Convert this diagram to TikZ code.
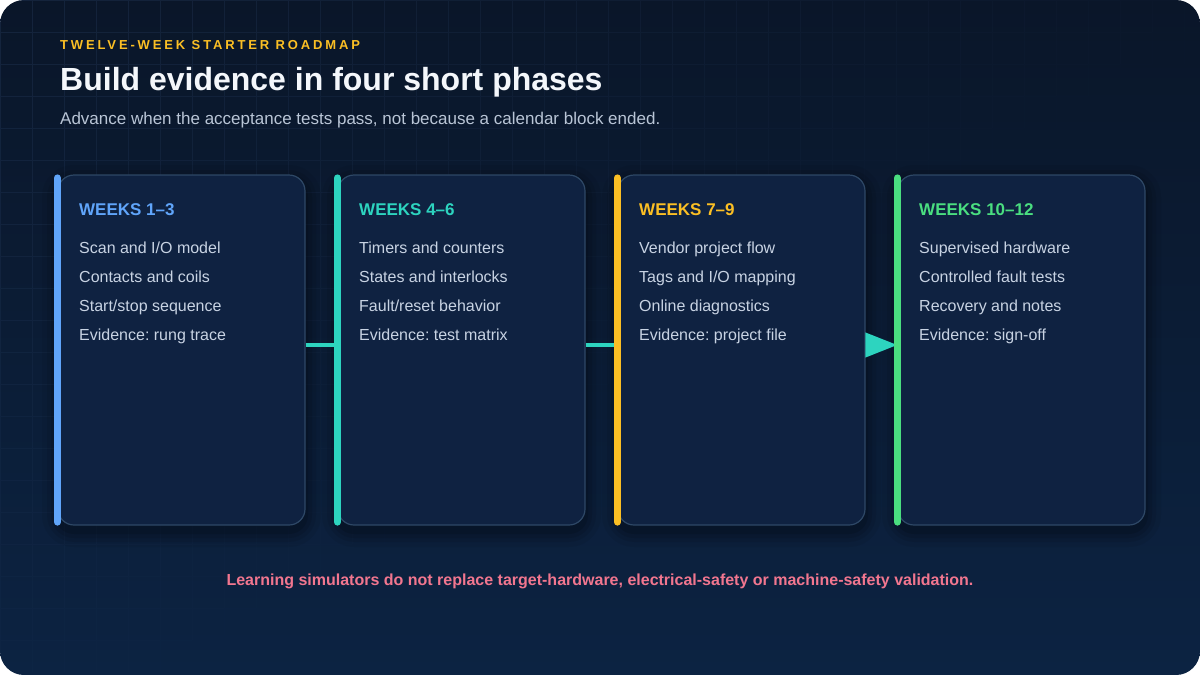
\documentclass[tikz,border=0pt]{standalone}
\usepackage{fontspec}
\setmainfont{Liberation Sans}
\usetikzlibrary{arrows.meta}
\frenchspacing
\definecolor{bgA}{HTML}{0A1629}
\definecolor{bgB}{HTML}{0C2342}
\definecolor{cardfill}{HTML}{0F2241}
\definecolor{cardline}{HTML}{2E4866}
\definecolor{itemtxt}{HTML}{C8D3E3}
\definecolor{subtxt}{HTML}{B9C5D6}
\definecolor{titletxt}{HTML}{F4F7FB}
\definecolor{gold}{HTML}{FBBF24}
\definecolor{blueA}{HTML}{60A5FA}
\definecolor{tealA}{HTML}{2DD4BF}
\definecolor{greenA}{HTML}{4ADE80}
\definecolor{pinkA}{HTML}{F2768F}
\definecolor{gridc}{HTML}{3A5580}
\tikzset{
  card/.style={draw=cardline, fill=cardfill, line width=1.2pt, rounded corners=16pt,
    minimum width=247pt, minimum height=350pt, inner sep=0pt},
  accent/.style={line width=7pt, line cap=round, shorten <=3.5pt, shorten >=3.5pt},
  phase/.style={anchor=base west, inner sep=0pt, font=\fontsize{17}{20}\selectfont\bfseries},
  item/.style={anchor=base west, inner sep=0pt, text=itemtxt, font=\fontsize{16}{19}\selectfont},
  conn/.style={draw=tealA, line width=4pt},
}
\begin{document}
\begin{tikzpicture}[x=1pt,y=-1pt]
\useasboundingbox (0,0) rectangle (1200,675);
\fill[white] (0,0) rectangle (1200,675);
\shade[rounded corners=24pt, top color=bgA, bottom color=bgB] (0,0) rectangle (1200,675);
% faint grid fading toward bottom right
\begin{scope}
\clip[rounded corners=24pt] (0,0) rectangle (1200,675);
\foreach \i in {0,...,37}{
  \foreach \j in {0,...,20}{
    \pgfmathsetmacro\op{max(0,0.22-0.22*(\i*32+\j*32*1.6)/1300)}
    \draw[gridc, line width=0.8pt, draw opacity=\op] (\i*32,\j*32) -- ++(0,32) (\i*32,\j*32) -- ++(32,0);
  }
}
\end{scope}
% card shadows
\foreach \L in {58,338,618,898}{
  \foreach \e/\o in {16/0.05,11/0.07,7/0.09,3/0.12}{
    \fill[black, opacity=\o, rounded corners=16pt+\e pt] (\L-\e,175-\e+6) rectangle (\L+247+\e,525+\e+6);
  }
}
% header
\node[anchor=base west, inner sep=0pt, text=gold, font=\fontsize{13}{15}\selectfont\bfseries\addfontfeature{LetterSpace=22}] (kicker) at (60,49.5) {TWELVE-WEEK\hspace{6.4pt}STARTER\hspace{6.4pt}ROADMAP};
\node[anchor=base west, inner sep=0pt, text=titletxt, font=\fontsize{32}{36}\selectfont\bfseries] (title) at (60,90) {Build evidence in four short phases};
\node[anchor=base west, inner sep=0pt, text=subtxt, font=\fontsize{17}{20}\selectfont] (subtitle) at (60,124) {Advance when the acceptance tests pass, not because a calendar block ended.};
% cards
\node[card] (c1) at (181.5,350) {};
\node[card] (c2) at (461.5,350) {};
\node[card] (c3) at (741.5,350) {};
\node[card] (c4) at (1021.5,350) {};
% connectors
\coordinate (lane) at (0,345);
\draw[conn] (c1.east|-lane) -- (c2.west|-lane);
\draw[conn] (c2.east|-lane) -- (c3.west|-lane);
\draw[conn, -{Triangle[length=32pt,width=24pt]}] (c3.east|-lane) -- (c4.west|-lane);
% accent bars
\draw[accent, blueA] (c1.north west) -- (c1.south west);
\draw[accent, tealA] (c2.north west) -- (c2.south west);
\draw[accent, gold] (c3.north west) -- (c3.south west);
\draw[accent, greenA] (c4.north west) -- (c4.south west);
% card 1
\node[phase, text=blueA] (p1) at (79,215) {WEEKS 1–3};
\node[item] (p1a) at (79,253.5) {Scan and I/O model};
\node[item] (p1b) at (79,282.5) {Contacts and coils};
\node[item] (p1c) at (79,311.5) {Start/stop sequence};
\node[item] (p1d) at (79,340.5) {Evidence: rung trace};
% card 2
\node[phase, text=tealA] (p2) at (359,215) {WEEKS 4–6};
\node[item] (p2a) at (359,253.5) {Timers and counters};
\node[item] (p2b) at (359,282.5) {States and interlocks};
\node[item] (p2c) at (359,311.5) {Fault/reset behavior};
\node[item] (p2d) at (359,340.5) {Evidence: test matrix};
% card 3
\node[phase, text=gold] (p3) at (639,215) {WEEKS 7–9};
\node[item] (p3a) at (639,253.5) {Vendor project flow};
\node[item] (p3b) at (639,282.5) {Tags and I/O mapping};
\node[item] (p3c) at (639,311.5) {Online diagnostics};
\node[item] (p3d) at (639,340.5) {Evidence: project file};
% card 4
\node[phase, text=greenA] (p4) at (919,215) {WEEKS 10–12};
\node[item] (p4a) at (919,253.5) {Supervised hardware};
\node[item] (p4b) at (919,282.5) {Controlled fault tests};
\node[item] (p4c) at (919,311.5) {Recovery and notes};
\node[item] (p4d) at (919,340.5) {Evidence: sign-off};
% footer
\node[anchor=base, inner sep=0pt, text=pinkA, font=\fontsize{16}{19}\selectfont\bfseries] (note) at (600,585) {Learning simulators do not replace target-hardware, electrical-safety or machine-safety validation.};
\end{tikzpicture}
\end{document}
